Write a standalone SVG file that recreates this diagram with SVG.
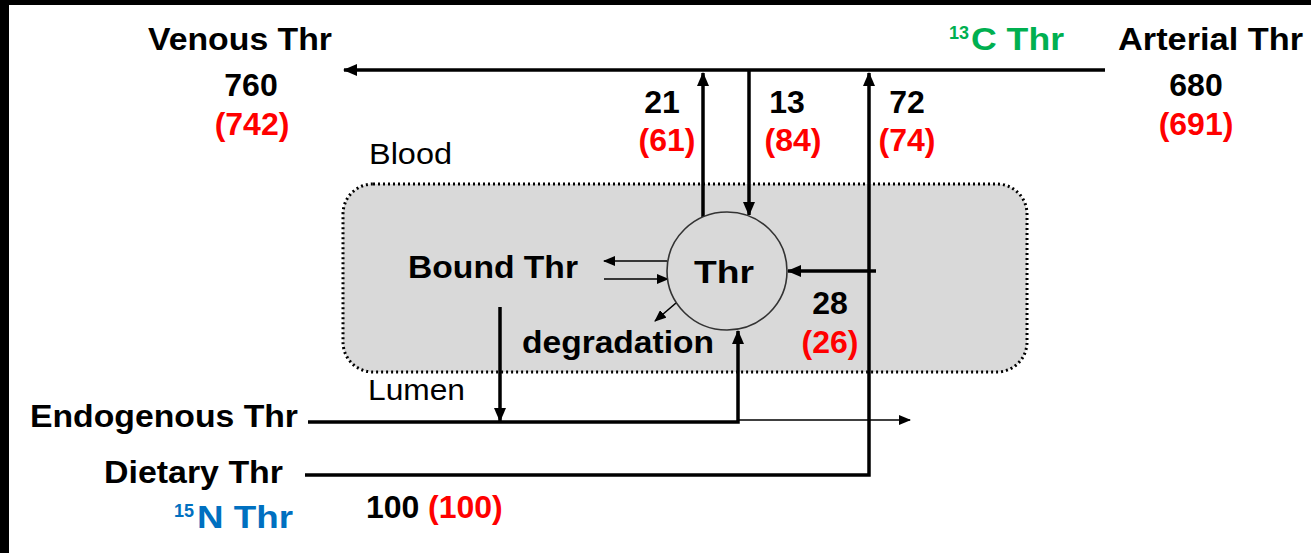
<svg xmlns="http://www.w3.org/2000/svg" width="1311" height="553" viewBox="0 0 1311 553">
<style>
.b{font-family:"Liberation Sans",Arial,sans-serif;font-weight:bold;font-size:32px;fill:#000}
.n{font-family:"Liberation Sans",Arial,sans-serif;font-size:29px;fill:#000}
.r{fill:#FF0000}
.sup{font-size:18px}
.thick{stroke:#000;stroke-width:3.5;fill:none}
.thin{stroke:#000;stroke-width:1.6;fill:none}
</style>
<defs>
<marker id="ah" markerUnits="userSpaceOnUse" markerWidth="14" markerHeight="12" refX="13" refY="6" orient="auto">
<path d="M0,0 L14,6 L0,12 Z" fill="#000"/>
</marker>
<marker id="ahs" markerUnits="userSpaceOnUse" markerWidth="12" markerHeight="10" refX="11" refY="5" orient="auto">
<path d="M0,0 L12,5 L0,10 Z" fill="#000"/>
</marker>
</defs>
<rect width="1311" height="553" fill="#fff"/>
<rect x="0" y="0" width="1311" height="5" fill="#000"/>
<rect x="0" y="0" width="9" height="553" fill="#000"/>

<g id="blood-compartment">
<rect x="343" y="184" width="684" height="188" rx="30" ry="30" fill="#D9D9D9" stroke="#000" stroke-width="3" stroke-dasharray="2 3"/>
<text class="n" x="369" y="164" textLength="83" lengthAdjust="spacingAndGlyphs">Blood</text>
<text class="n" x="368" y="400" textLength="97" lengthAdjust="spacingAndGlyphs">Lumen</text>
</g>

<g id="connectors">
<line class="thick" x1="1105" y1="70" x2="344" y2="70" marker-end="url(#ah)"/>
<line class="thick" x1="703" y1="217" x2="703" y2="73" marker-end="url(#ah)"/>
<line class="thick" x1="749" y1="70" x2="749" y2="215" marker-end="url(#ah)"/>
<polyline class="thick" points="305,475 869,475 869,73" marker-end="url(#ah)"/>
<line class="thick" x1="876" y1="271" x2="788" y2="271" marker-end="url(#ah)"/>
<polyline class="thick" points="308,422 738,422 738,331" marker-end="url(#ah)"/>
<line class="thin" x1="738" y1="420" x2="910" y2="420" marker-end="url(#ahs)"/>
<line class="thick" x1="500" y1="307" x2="500" y2="421" marker-end="url(#ah)"/>
<line class="thin" x1="667" y1="261" x2="604" y2="261" marker-end="url(#ahs)"/>
<line class="thin" x1="604" y1="279" x2="668" y2="279" marker-end="url(#ahs)"/>
<line class="thin" x1="676" y1="303" x2="655" y2="321" marker-end="url(#ahs)"/>
</g>

<g id="thr-pool">
<ellipse cx="727" cy="271" rx="60" ry="59" fill="#D9D9D9" stroke="#333" stroke-width="1.6"/>
<text class="b" x="694" y="283" font-size="37" textLength="60" lengthAdjust="spacingAndGlyphs">Thr</text>
</g>

<g id="venous">
<text class="b" x="148" y="50" textLength="184" lengthAdjust="spacingAndGlyphs">Venous Thr</text>
<text class="b" x="251" y="96" text-anchor="middle">760</text>
<text class="b r" x="252" y="135" text-anchor="middle">(742)</text>
</g>

<g id="arterial">
<text class="b" x="1118" y="50" textLength="185" lengthAdjust="spacingAndGlyphs">Arterial Thr</text>
<text class="b" x="1196" y="96" text-anchor="middle">680</text>
<text class="b r" x="1196" y="135" text-anchor="middle">(691)</text>
</g>

<g id="label-13C">
<text class="b sup" x="949" y="39" style="fill:#00B050">13</text>
<text class="b" x="971" y="50" textLength="93" lengthAdjust="spacingAndGlyphs" style="fill:#00B050">C Thr</text>
</g>

<g id="flux-labels">
<text class="b" x="662" y="113" text-anchor="middle">21</text>
<text class="b r" x="667" y="151" text-anchor="middle">(61)</text>
<text class="b" x="787" y="113" text-anchor="middle">13</text>
<text class="b r" x="793" y="151" text-anchor="middle">(84)</text>
<text class="b" x="907" y="113" text-anchor="middle">72</text>
<text class="b r" x="907" y="151" text-anchor="middle">(74)</text>
<text class="b" x="830" y="314" text-anchor="middle">28</text>
<text class="b r" x="830" y="353" text-anchor="middle">(26)</text>
</g>

<g id="bound">
<text class="b" x="408" y="278" textLength="170" lengthAdjust="spacingAndGlyphs">Bound Thr</text>
</g>

<g id="degradation">
<text class="b" x="522" y="353" textLength="192" lengthAdjust="spacingAndGlyphs">degradation</text>
</g>

<g id="endogenous">
<text class="b" x="30" y="427" textLength="268" lengthAdjust="spacingAndGlyphs">Endogenous Thr</text>
</g>

<g id="dietary">
<text class="b" x="104" y="483" textLength="179" lengthAdjust="spacingAndGlyphs">Dietary Thr</text>
<text class="b" x="366" y="518">100</text>
<text class="b r" x="428" y="518">(100)</text>
</g>

<g id="label-15N">
<text class="b sup" x="174" y="517" style="fill:#0070C0">15</text>
<text class="b" x="197" y="528" textLength="96" lengthAdjust="spacingAndGlyphs" style="fill:#0070C0">N Thr</text>
</g>
</svg>
